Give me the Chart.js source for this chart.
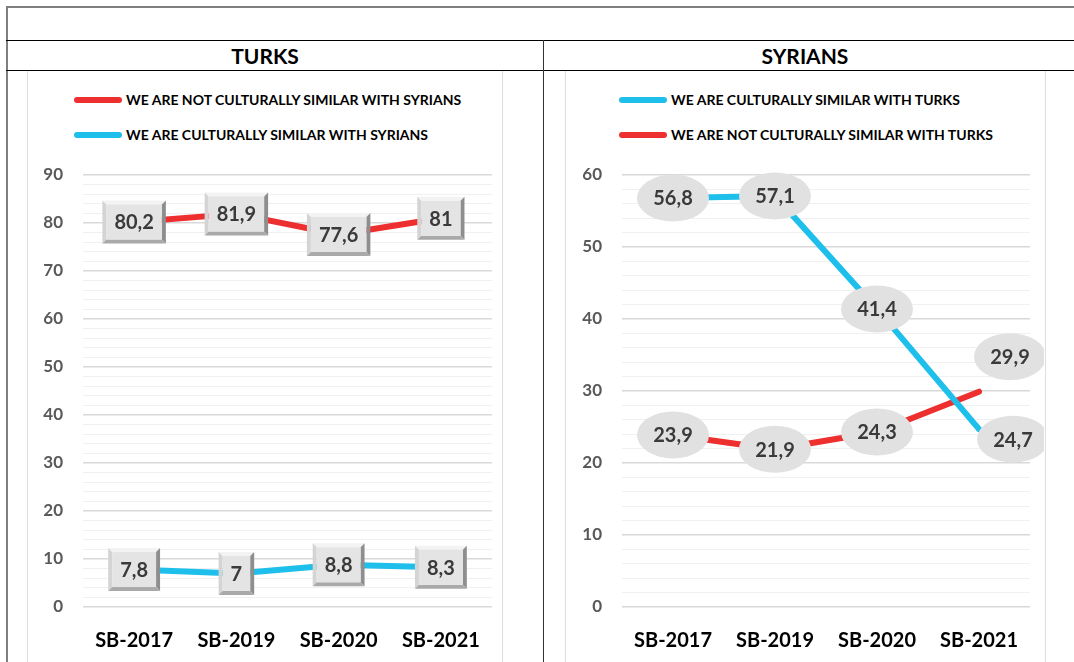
<!DOCTYPE html>
<html><head><meta charset="utf-8">
<script src="https://cdn.jsdelivr.net/npm/chart.js@4"></script>
<style>
body{margin:0;width:1074px;height:662px;overflow:hidden;background:#fff;font-family:Lato,sans-serif;position:relative}
.abs{position:absolute}
.title{position:absolute;top:42px;height:28px;line-height:28px;font-weight:bold;font-size:21px;color:#000;text-align:center}
.leg{position:absolute;height:20px;line-height:20px;font-weight:bold;font-size:14px;color:#000;white-space:nowrap}
.leg span{display:inline-block;width:48px;height:6px;border-radius:3px;vertical-align:middle;margin-right:4px;position:relative;top:-1px}
canvas{position:absolute}
</style></head><body>
<div class="abs" style="left:6px;top:6px;width:1100px;border-top:2px solid #7f7f7f"></div>
<div class="abs" style="left:6px;top:6px;height:700px;border-left:2px solid #7f7f7f"></div>
<div class="abs" style="left:6px;top:40px;width:1100px;border-top:1px solid #000"></div>
<div class="abs" style="left:6px;top:70px;width:1100px;border-top:1px solid #000"></div>
<div class="abs" style="left:543px;top:40px;height:700px;border-left:1px solid #333"></div>
<div class="abs" style="left:27px;top:71px;width:474px;height:700px;border-left:1px solid #dedede;border-right:1px solid #dedede"></div>
<div class="abs" style="left:565px;top:71px;width:479px;height:700px;border-left:1px solid #dedede;border-right:1px solid #dedede"></div>
<div class="title" style="left:165px;width:200px">TURKS</div>
<div class="title" style="left:705px;width:200px">SYRIANS</div>
<div class="leg" style="left:74px;top:90px"><span style="background:#ee2f2f"></span>WE ARE NOT CULTURALLY SIMILAR WITH SYRIANS</div>
<div class="leg" style="left:74px;top:125px"><span style="background:#1fbfec"></span>WE ARE CULTURALLY SIMILAR WITH SYRIANS</div>
<div class="leg" style="left:619px;top:90px"><span style="background:#1fbfec"></span>WE ARE CULTURALLY SIMILAR WITH TURKS</div>
<div class="leg" style="left:619px;top:125px"><span style="background:#ee2f2f"></span>WE ARE NOT CULTURALLY SIMILAR WITH TURKS</div>
<canvas id="c1" width="473" height="591" style="left:28px;top:71px"></canvas>
<canvas id="c2" width="478" height="591" style="left:566px;top:71px"></canvas>
<script>
const categories = ['SB-2017','SB-2019','SB-2020','SB-2021'];
const turksNotSimilar = [80.2, 81.9, 77.6, 81];
const turksSimilar = [7.8, 7, 8.8, 8.3];
const syriansSimilar = [56.8, 57.1, 41.4, 24.7];
const syriansNotSimilar = [23.9, 21.9, 24.3, 29.9];

const RED = '#ee2f2f', BLUE = '#1fbfec';

function drawBox(ctx, cx, cy, w, h){
  const b = 4, x0 = cx - w/2, y0 = cy - h/2, x1 = cx + w/2, y1 = cy + h/2;
  const poly = (pts, c) => { ctx.beginPath(); ctx.moveTo(pts[0][0], pts[0][1]); for (let k=1;k<pts.length;k++) ctx.lineTo(pts[k][0], pts[k][1]); ctx.closePath(); ctx.fillStyle = c; ctx.fill(); };
  poly([[x0,y0],[x1,y0],[x1-b,y0+b],[x0+b,y0+b]], '#f3f3f3');
  poly([[x0,y0],[x0+b,y0+b],[x0+b,y1-b],[x0,y1]], '#d4d4d4');
  poly([[x1,y0],[x1,y1],[x1-b,y1-b],[x1-b,y0+b]], '#8e8e8e');
  poly([[x0,y1],[x0+b,y1-b],[x1-b,y1-b],[x1,y1]], '#a9a9a9');
  ctx.fillStyle = '#e4e4e4';
  ctx.fillRect(x0+b, y0+b, w-2*b, h-2*b);
}

const labelPlugin = {
  id: 'dl',
  afterDatasetsDraw(chart, args, opts){
    const ctx = chart.ctx;
    chart.data.datasets.forEach((ds, i) => {
      const meta = chart.getDatasetMeta(i);
      meta.data.forEach((pt, j) => {
        const txt = String(ds.data[j]).replace('.', ',');
        const off = (ds.labelOffsets && ds.labelOffsets[j]) || [0, 0];
        const x = pt.x + off[0], y = pt.y + off[1];
        ctx.save();
        ctx.font = 'bold 20px Lato';
        const tw = ctx.measureText(txt).width;
        if (opts.shape === 'box') {
          drawBox(ctx, x, y, tw + 24, 43);
        } else {
          ctx.beginPath();
          ctx.ellipse(x, y, 36, 23.5, 0, 0, Math.PI*2);
          ctx.fillStyle = '#e1e1e1';
          ctx.fill();
        }
        ctx.fillStyle = '#3a3a3a';
        ctx.textAlign = 'center';
        ctx.textBaseline = 'middle';
        ctx.fillText(txt, x, y + 1);
        ctx.restore();
      });
    });
  }
};

function makeChart(id, datasets, maxY, yWidth, padRight, shape){
  return new Chart(document.getElementById(id), {
    type: 'line',
    data: { labels: categories, datasets },
    plugins: [labelPlugin],
    options: {
      responsive: false,
      animation: false,
      events: [],
      layout: { padding: { top: 104, right: padRight, left: 0, bottom: 0 } },
      plugins: { legend: { display: false }, tooltip: { enabled: false }, dl: { shape } },
      elements: { point: { radius: 0 }, line: { tension: 0, borderWidth: 6, borderCapStyle: 'round', borderJoinStyle: 'round' } },
      scales: {
        x: {
          offset: true,
          grid: { display: false },
          border: { display: false },
          ticks: { color: '#000', font: { family: 'Lato', weight: 'bold', size: 20 }, padding: 14, maxRotation: 0 },
          afterFit: s => { s.height = 55; }
        },
        y: {
          min: 0, max: maxY,
          border: { display: false },
          grid: { drawTicks: false, color: c => (c.tick.value % 10 === 0 ? '#d9d9d9' : '#f0f0f0'), lineWidth: c => (c.tick.value % 10 === 0 ? 1.5 : 1) },
          ticks: { stepSize: 2, autoSkip: false, padding: 20, color: '#595959', font: { family: 'Lato', weight: 'bold', size: 17 },
                   callback: v => (v % 10 === 0 ? v : '') },
          afterFit: s => { s.width = yWidth; }
        }
      }
    }
  });
}

makeChart('c1', [
  { label: 'WE ARE NOT CULTURALLY SIMILAR WITH SYRIANS', data: turksNotSimilar, borderColor: RED, backgroundColor: RED },
  { label: 'WE ARE CULTURALLY SIMILAR WITH SYRIANS', data: turksSimilar, borderColor: BLUE, backgroundColor: BLUE }
], 90, 55, 9, 'box');

makeChart('c2', [
  { label: 'WE ARE CULTURALLY SIMILAR WITH TURKS', data: syriansSimilar, borderColor: BLUE, backgroundColor: BLUE,
    labelOffsets: [[0,0],[0,0],[0,0],[34,10]] },
  { label: 'WE ARE NOT CULTURALLY SIMILAR WITH TURKS', data: syriansNotSimilar, borderColor: RED, backgroundColor: RED,
    labelOffsets: [[0,0],[0,0],[0,0],[31,-35]] }
], 60, 56, 14, 'ellipse');
</script>
</body></html>
